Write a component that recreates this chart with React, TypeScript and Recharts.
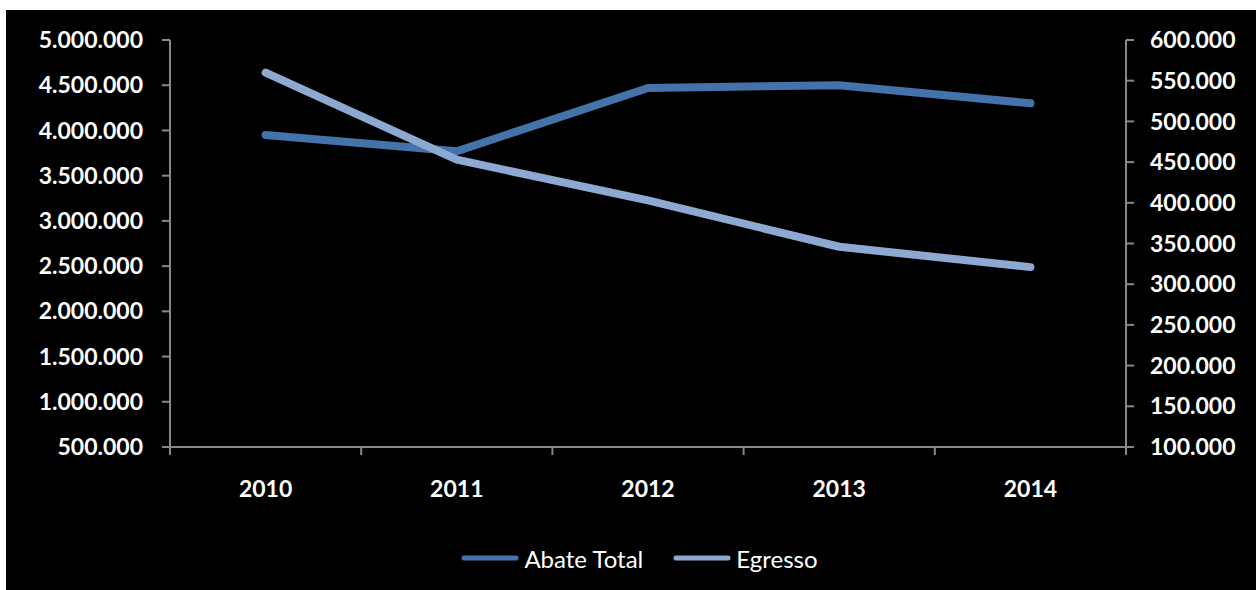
import React from 'react';
import { LineChart, Line, XAxis, YAxis, Legend } from 'recharts';

const years = ['2010', '2011', '2012', '2013', '2014'];
const abateTotal = [3950000, 3770000, 4470000, 4500000, 4300000];
const egresso = [560000, 453000, 403000, 346000, 321000];
const leftTicks = [500000, 1000000, 1500000, 2000000, 2500000, 3000000, 3500000, 4000000, 4500000, 5000000];
const rightTicks = [100000, 150000, 200000, 250000, 300000, 350000, 400000, 450000, 500000, 550000, 600000];
const xTicks = [0, 0.5, 1, 1.5, 2, 2.5, 3, 3.5, 4, 4.5, 5];

const data = years.map((y, i) => ({ x: i + 0.5, year: y, abate: abateTotal[i], egresso: egresso[i] }));

const DARK = '#4472AA';
const LIGHT = '#8EA9D1';
const AXIS = '#878787';
const FONT = 'Lato, "Open Sans", sans-serif';

const fmt = (v: number) => String(Math.round(v)).replace(/\B(?=(\d{3})+(?!\d))/g, '.');

const XTick = (props: any) => {
  const { x, y, payload } = props;
  const v = payload.value;
  if (Number.isInteger(v)) {
    return <line x1={x} x2={x} y1={y - 8} y2={y} stroke={AXIS} strokeWidth={2} />;
  }
  const label = years[Math.floor(v)];
  return (
    <text x={x} y={y} dy={42} textAnchor="middle" fill="#fff" fontSize={23} fontWeight={700} fontFamily={FONT}>
      {label}
    </text>
  );
};

const LegendContent = (props: any) => {
  const { payload } = props;
  return (
    <div style={{ height: 60 }}>
      <div style={{ height: 56, display: 'flex', justifyContent: 'center', alignItems: 'center', paddingLeft: 17, gap: 30 }}>
        {(payload || []).map((p: any) => (
          <div key={p.value} style={{ display: 'flex', alignItems: 'center', gap: 5 }}>
            <svg width={58} height={10}>
              <line x1={3} x2={55} y1={5} y2={5} stroke={p.color} strokeWidth={5} strokeLinecap="round" />
            </svg>
            <span style={{ color: '#fff', fontFamily: FONT, fontSize: 24 }}>{p.value}</span>
          </div>
        ))}
      </div>
    </div>
  );
};

export default function App() {
  return (
    <div style={{ position: 'fixed', left: 0, top: 0, width: 1256, height: 590, background: '#fff' }}>
      <div style={{ position: 'absolute', left: 6, top: 10, width: 1250, height: 580, background: '#000' }}>
        <LineChart width={1250} height={580} data={data} margin={{ top: 30, right: 0, left: 0, bottom: 0 }}>
          <XAxis
            dataKey="x"
            type="number"
            domain={[0, 5]}
            ticks={xTicks}
            interval={0}
            height={83}
            tickSize={8}
            tickMargin={0}
            tickLine={false}
            axisLine={{ stroke: AXIS, strokeWidth: 2 }}
            tick={<XTick />}
            allowDataOverflow
          />
          <YAxis
            yAxisId="left"
            orientation="left"
            width={164}
            domain={[500000, 5000000]}
            ticks={leftTicks}
            interval={0}
            tickFormatter={fmt}
            tickSize={8}
            tickMargin={19}
            axisLine={{ stroke: AXIS, strokeWidth: 2 }}
            tickLine={{ stroke: AXIS, strokeWidth: 2 }}
            tick={{ fill: '#fff', fontSize: 23, fontWeight: 700, fontFamily: FONT }}
          />
          <YAxis
            yAxisId="right"
            orientation="right"
            width={130}
            domain={[100000, 600000]}
            ticks={rightTicks}
            interval={0}
            tickFormatter={fmt}
            tickSize={8}
            tickMargin={16}
            axisLine={{ stroke: AXIS, strokeWidth: 2 }}
            tickLine={{ stroke: AXIS, strokeWidth: 2 }}
            tick={{ fill: '#fff', fontSize: 23, fontWeight: 700, fontFamily: FONT }}
          />
          <Legend verticalAlign="bottom" content={<LegendContent />} />
          <Line
            yAxisId="left"
            type="linear"
            dataKey="abate"
            name="Abate Total"
            stroke={DARK}
            strokeWidth={8}
            strokeLinecap="round"
            strokeLinejoin="round"
            dot={false}
            activeDot={false}
            isAnimationActive={false}
          />
          <Line
            yAxisId="right"
            type="linear"
            dataKey="egresso"
            name="Egresso"
            stroke={LIGHT}
            strokeWidth={8}
            strokeLinecap="round"
            strokeLinejoin="round"
            dot={false}
            activeDot={false}
            isAnimationActive={false}
          />
        </LineChart>
      </div>
    </div>
  );
}
